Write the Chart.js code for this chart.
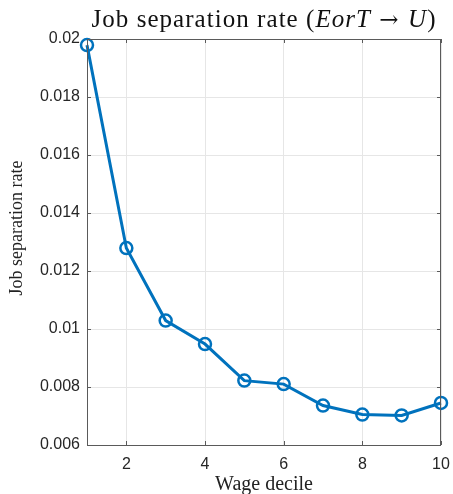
<!DOCTYPE html>
<html>
<head>
<meta charset="utf-8">
<script src="https://cdn.jsdelivr.net/npm/chart.js@4.4.1/dist/chart.umd.min.js"></script>
<style>
  html, body { margin: 0; padding: 0; background: #fff; }
  #wrap { width: 453px; height: 494px; }
</style>
</head>
<body>
<div id="wrap"><canvas id="grafico" width="453" height="494"></canvas></div>
<script>
// dados
const decis = [1, 2, 3, 4, 5, 6, 7, 8, 9, 10];
const taxaSeparacao = [0.01979, 0.01279, 0.01029, 0.00948, 0.00822, 0.00810, 0.00736, 0.00705, 0.00702, 0.00745];
const ticksX = [2, 4, 6, 8, 10];
const ticksY = [0.006, 0.008, 0.01, 0.012, 0.014, 0.016, 0.018, 0.02];

const azul = "#0072BD";
const corEixo = "#5a5a5a";

// titulo com parte matematica em italico + rotulo do eixo y + caixa
const tituloPlugin = {
  id: "tituloMisto",
  afterDraw(chart) {
    const c = chart.ctx;
    const area = chart.chartArea;
    const partes = [
      { t: "Job separation rate (", f: "25px 'Liberation Serif'" },
      { t: "EorT", f: "italic 25px 'Liberation Serif'" },
      { t: " \u2192 ", f: "23px 'DejaVu Serif'" },
      { t: "U", f: "italic 25px 'Liberation Serif'" },
      { t: ")", f: "25px 'Liberation Serif'" },
    ];
    c.save();
    let total = 0, n = 0;
    partes.forEach(p => { c.font = p.f; total += c.measureText(p.t).width; n += p.t.length; });
    const esp = Math.max(0, (345 - total) / n);
    let x = (area.left + area.right) / 2 - (total + esp * n) / 2;
    c.fillStyle = "#111";
    c.textBaseline = "alphabetic";
    partes.forEach(p => {
      c.font = p.f;
      for (const ch of p.t) { c.fillText(ch, x, 27); x += c.measureText(ch).width + esp; }
    });

    // rotulo do eixo y
    c.save();
    c.translate(22, 228);
    c.rotate(-Math.PI / 2);
    c.font = "18px 'Liberation Serif'";
    c.textAlign = "center";
    c.fillStyle = "#222";
    c.fillText("Job separation rate", 0, 0);
    c.restore();

    // caixa estilo matlab
    c.strokeStyle = corEixo;
    c.lineWidth = 1;
    c.strokeRect(area.left + 0.5, area.top + 0.5, area.right - area.left - 1, area.bottom - area.top);

    // marcas internas
    c.beginPath();
    const sx = chart.scales.x, sy = chart.scales.y;
    ticksX.forEach(v => {
      const px = Math.round(sx.getPixelForValue(v)) + 0.5;
      c.moveTo(px, area.bottom); c.lineTo(px, area.bottom - 4);
      c.moveTo(px, area.top); c.lineTo(px, area.top + 4);
    });
    ticksY.forEach(v => {
      const py = Math.round(sy.getPixelForValue(v)) + 0.5;
      c.moveTo(area.left, py); c.lineTo(area.left + 4, py);
      c.moveTo(area.right, py); c.lineTo(area.right - 4, py);
    });
    c.stroke();
    c.restore();
  }
};

const ctx = document.getElementById("grafico").getContext("2d");
new Chart(ctx, {
  type: "line",
  data: {
    datasets: [{
      data: decis.map((d, i) => ({ x: d, y: taxaSeparacao[i] })),
      borderColor: azul,
      borderWidth: 3,
      pointRadius: 6,
      pointBorderWidth: 2.5,
      pointBackgroundColor: "rgba(0,0,0,0)",
      pointBorderColor: azul,
      tension: 0,
      clip: false,
    }]
  },
  options: {
    responsive: false,
    animation: false,
    layout: { padding: { left: 0, right: 12, top: 39, bottom: 0 } },
    plugins: {
      legend: { display: false },
      tooltip: { enabled: false },
    },
    scales: {
      x: {
        type: "linear",
        min: 1,
        max: 10,
        afterBuildTicks: (ax) => { ax.ticks = ticksX.map(v => ({ value: v })); },
        afterFit: (ax) => { ax.height = 49; ax.paddingRight = 0; ax.paddingLeft = 0; },
        grid: { color: "#e6e6e6", drawTicks: false },
        border: { display: false },
        ticks: {
          color: "#262626",
          padding: 10,
          maxRotation: 0,
          font: { family: "'Liberation Sans'", size: 16 },
        },
        title: {
          display: true,
          text: "Wage decile",
          color: "#222",
          padding: { top: 0, bottom: -3 },
          font: { family: "'Liberation Serif'", size: 20 },
        }
      },
      y: {
        min: 0.006,
        max: 0.02,
        afterBuildTicks: (ax) => { ax.ticks = ticksY.map(v => ({ value: v })); },
        afterFit: (ax) => { ax.width = 87; ax.paddingTop = 0; ax.paddingBottom = 0; },
        grid: { color: "#e6e6e6", drawTicks: false },
        border: { display: false },
        ticks: {
          color: "#262626",
          padding: 7,
          font: { family: "'Liberation Sans'", size: 16 },
          callback: (v) => String(parseFloat(v.toFixed(4))),
        },
      }
    }
  },
  plugins: [tituloPlugin],
});
</script>
</body>
</html>
